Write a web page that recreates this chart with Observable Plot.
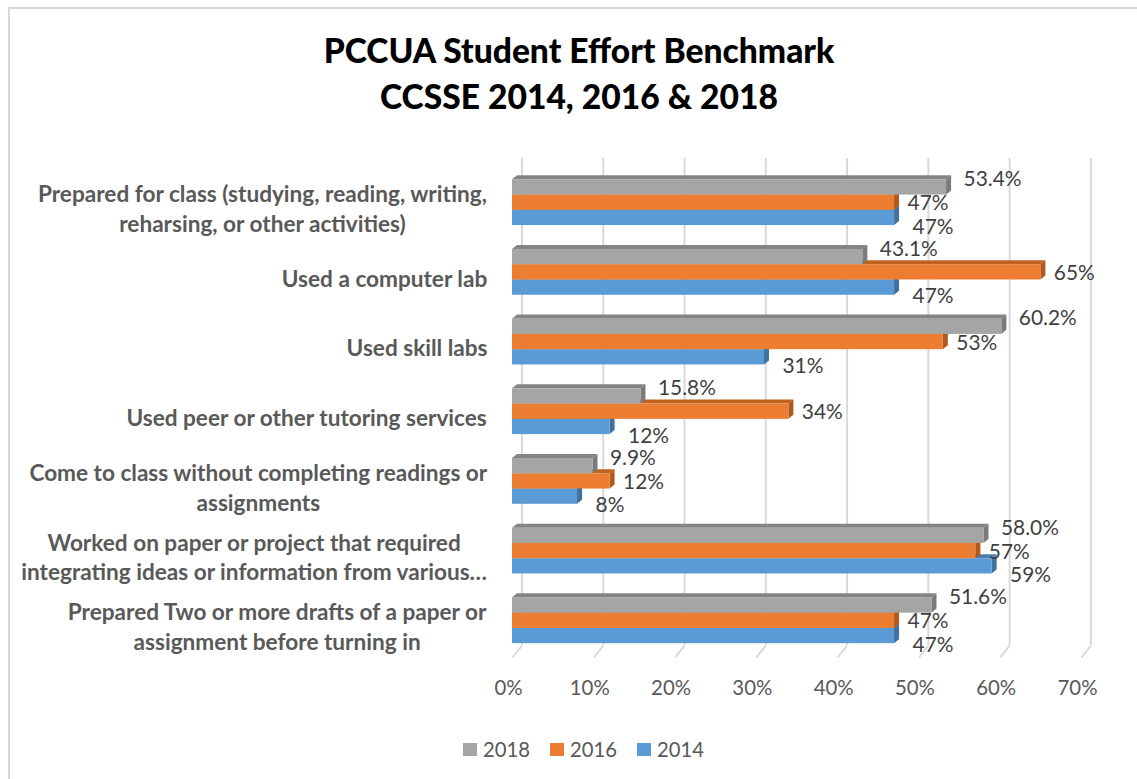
<!DOCTYPE html>
<html>
<head>
<meta charset="utf-8">
<script src="https://cdn.jsdelivr.net/npm/d3@7"></script>
<script src="https://cdn.jsdelivr.net/npm/@observablehq/plot@0.6"></script>
<style>
  body { margin: 0; background: #fff; }
  #wrap { position: relative; width: 1137px; height: 779px; overflow: hidden; background: #fff; font-family: Lato, "Open Sans", sans-serif; }
  #frame { position: absolute; left: 8px; top: 7px; width: 1160px; height: 800px; border: 2px solid #d9d9d9; box-sizing: border-box; }
  #title { position: absolute; left: 0; top: 27px; width: 1158px; text-align: center; font-weight: 900; line-height: 46px; color: #000; }
  #chart { position: absolute; left: 0; top: 140px; }
  #legend { position: absolute; left: 463px; top: 737px; display: flex; align-items: center; color: #595959; white-space: nowrap; }
  #legend .sw { width: 14px; height: 13px; display: inline-block; margin-right: 6px; }
  #legend .it { display: flex; align-items: center; margin-right: 20px; }
</style>
</head>
<body>
<div id="wrap">
  <div id="frame"></div>
  <div id="title"></div>
  <div id="chart"></div>
  <div id="legend"></div>
</div>
<script>
// ---- data ----
const titleLines = ["PCCUA Student Effort Benchmark", "CCSSE 2014, 2016 & 2018"];
const categories = [
  "Prepared for class (studying, reading, writing,\nreharsing, or other activities)",
  "Used a computer lab",
  "Used skill labs",
  "Used peer or other tutoring services",
  "Come to class without completing readings or\nassignments",
  "Worked on paper or project that required\nintegrating ideas or information from various…",
  "Prepared Two or more drafts of a paper or\nassignment before turning in"
];
const seriesNames = ["2018", "2016", "2014"];
const values2018 = [53.4, 43.1, 60.2, 15.8, 9.9, 58.0, 51.6];
const values2016 = [47, 65, 53, 34, 12, 57, 47];
const values2014 = [47, 47, 31, 12, 8, 59, 47];
const xTicks = [0, 10, 20, 30, 40, 50, 60, 70];

const frontColors = {"2018": "#A5A5A5", "2016": "#ED7D31", "2014": "#5B9BD5"};
const topColors   = {"2018": "#848484", "2016": "#c0631f", "2014": "#4a7fb0"};
const sideColors  = {"2018": "#7a7a7a", "2016": "#b05a1e", "2014": "#41719c"};
const valuesBySeries = {"2018": values2018, "2016": values2016, "2014": values2014};
const fmt = {"2018": v => v.toFixed(1) + "%", "2016": v => v + "%", "2014": v => v + "%"};

// ---- font fitting ----
const FONT = 'Lato, "Open Sans", sans-serif';
const ctx = document.createElement("canvas").getContext("2d");
function measure(text, weight, size) { ctx.font = `${weight} ${size}px ${FONT}`; return ctx.measureText(text).width; }
function fit(text, weight, target) { return 100 * target / measure(text, weight, 100); }

const titleSize = fit(titleLines[0], "900", 512);
const catSize = fit("Used a computer lab", "bold", 206);
const valSize = fit("53.4%", "normal", 58);
const tickSize = fit("70%", "normal", 40);
const legSize = fit("2018", "normal", 47);

// ---- title & legend ----
const t = document.getElementById("title");
t.style.fontSize = titleSize + "px";
t.innerHTML = titleLines.join("<br>");
const leg = document.getElementById("legend");
leg.style.fontSize = legSize + "px";
leg.innerHTML = seriesNames.map(s => `<span class="it"><span class="sw" style="background:${frontColors[s]}"></span>${s}</span>`).join("");

// ---- geometry in scale units (rows: one unit per category) ----
const barT = 0.219;           // bar thickness in row units
const depthX = 0.62;          // bar depth in % units
const depthY = 0.058;         // bar depth in row units
const wallX = 1.16;           // back-wall offset in % units
const yTopDom = -0.634, yBotDom = 6.527, yWallBot = 6.355;

const rows = [];
seriesNames.forEach((s, j) => {
  valuesBySeries[s].forEach((v, i) => {
    const y1 = i - 1.5 * barT + j * barT;
    rows.push({i, s, v, y1, y2: y1 + barT, yc: y1 + barT / 2, label: fmt[s](v)});
  });
});

const marks = [
  Plot.ruleX(xTicks, {x: d => d + wallX, y1: () => yTopDom, y2: () => yWallBot, stroke: "#d9d9d9", strokeWidth: 2}),
  Plot.link(xTicks, {x1: d => d + wallX, y1: () => yWallBot, x2: d => d, y2: () => yBotDom, stroke: "#d9d9d9", strokeWidth: 2})
];

for (const s of ["2014", "2016", "2018"]) {
  const rs = rows.filter(r => r.s === s);
  const topPts = rs.flatMap(r => [
    {i: r.i, y: r.y1, x1: 0, x2: r.v},
    {i: r.i, y: r.y1 - depthY, x1: depthX, x2: r.v + depthX}
  ]);
  const sidePts = rs.flatMap(r => [
    {i: r.i, x: r.v, y1: r.y1, y2: r.y2},
    {i: r.i, x: r.v + depthX, y1: r.y1 - depthY, y2: r.y2 - depthY}
  ]);
  marks.push(
    Plot.areaX(topPts, {y: "y", x1: "x1", x2: "x2", z: "i", fill: topColors[s]}),
    Plot.areaY(sidePts, {x: "x", y1: "y1", y2: "y2", z: "i", fill: sideColors[s]}),
    Plot.rectX(rs, {x1: () => 0, x2: "v", y1: "y1", y2: "y2", fill: frontColors[s]})
  );
}

const labelDy = {"2018": -8, "2016": 1, "2014": 9};
const labelDx = {"2018": 17, "2016": 13, "2014": 18};
for (const s of seriesNames) {
  marks.push(Plot.text(rows.filter(r => r.s === s), {
    x: "v", y: "yc", text: "label", textAnchor: "start", dx: labelDx[s], dy: labelDy[s],
    fontSize: valSize, fill: "#404040"
  }));
}

categories.forEach((c, i) => {
  const w = d3.max(c.split("\n"), l => measure(l, "bold", catSize));
  marks.push(Plot.text([i], {
    x: () => 0, y: d => d, text: () => c, textAnchor: "middle", lineAnchor: "middle",
    dx: -(25 + w / 2), dy: 5, fontSize: catSize, fontWeight: "bold", fill: "#595959", lineHeight: 1.3
  }));
});

marks.push(Plot.axisX(xTicks, {tickSize: 0, tickPadding: 23, dx: -4, tickFormat: d => d + "%", fontSize: tickSize, fill: "#595959", label: null}));

const chart = Plot.plot({
  width: 1137,
  height: 580,
  marginLeft: 512,
  marginRight: 56,
  marginTop: 18,
  marginBottom: 63,
  style: {fontFamily: FONT, background: "transparent", overflow: "visible"},
  x: {domain: [0, 70], axis: null},
  y: {domain: [yBotDom, yTopDom], axis: null},
  marks
});
document.getElementById("chart").appendChild(chart);
</script>
</body>
</html>
